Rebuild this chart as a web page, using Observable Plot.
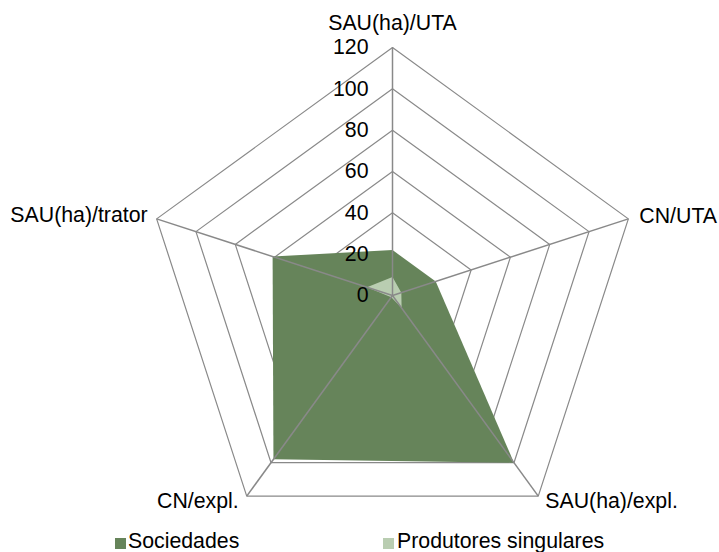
<!DOCTYPE html>
<html>
<head>
<meta charset="utf-8">
<script src="https://cdn.jsdelivr.net/npm/d3@7"></script>
<script src="https://cdn.jsdelivr.net/npm/@observablehq/plot@0.6"></script>
<style>
  html, body { margin: 0; padding: 0; background: #fff; }
  #wrap { position: relative; width: 719px; height: 552px; font-family: "Liberation Sans", Arial, sans-serif; }
  .lg { position: absolute; font-size: 21.3px; line-height: 21.3px; color: #000; white-space: nowrap; }
  .sw { position: absolute; width: 11px; height: 11px; }
</style>
</head>
<body>
<div id="wrap"></div>
<script>
const categories = ["SAU(ha)/UTA", "CN/UTA", "SAU(ha)/expl.", "CN/expl.", "SAU(ha)/trator"];
const sociedades = [22, 22, 100, 98, 61];
const produtores = [9, 4.5, 7.5, 1, 13];
const ticks = [0, 20, 40, 60, 80, 100, 120];
const seriesNames = ["Sociedades", "Produtores singulares"];
const seriesColors = ["#66845a", "#b9cdb1"];

const n = categories.length;
const ang = i => i * 2 * Math.PI / n;
const px = (i, r) => r * Math.sin(ang(i));
const py = (i, r) => r * Math.cos(ang(i));

const rings = ticks.filter(t => t > 0).flatMap(t => categories.map((c, i) => ({t, x: px(i, t), y: py(i, t)})));
const spokes = categories.map((c, i) => ({c, i, x: px(i, 120), y: py(i, 120)}));
const polys = [sociedades, produtores].map((vals, s) => vals.map((v, i) => ({s, x: px(i, v), y: py(i, v)})));
const tickData = ticks.map(t => ({t}));

const labelOffsets = [
  {dx: 0, dy: -24, anchor: "middle"},
  {dx: 11, dy: -3, anchor: "start"},
  {dx: 7, dy: 5, anchor: "start"},
  {dx: -8, dy: 5, anchor: "end"},
  {dx: -9, dy: -4, anchor: "end"}
];

const font = "Liberation Sans, Arial, sans-serif";
const chart = Plot.plot({
  width: 719,
  height: 525,
  marginLeft: 144,
  marginRight: 79,
  marginTop: 47,
  marginBottom: 23.33,
  x: {domain: [-120, 120], axis: null},
  y: {domain: [-100, 120], axis: null},
  style: {fontFamily: font, background: "#fff", overflow: "visible"},
  marks: [
    Plot.line(rings, {x: "x", y: "y", z: "t", curve: "linear-closed", stroke: "#898989", strokeWidth: 1.2}),
    Plot.line(polys[0], {x: "x", y: "y", curve: "linear-closed", fill: seriesColors[0], stroke: "none"}),
    Plot.line(polys[1], {x: "x", y: "y", curve: "linear-closed", fill: seriesColors[1], stroke: "none"}),
    Plot.link(spokes, {x1: () => 0, y1: () => 0, x2: "x", y2: "y", stroke: "#898989", strokeWidth: 1.5}),
    Plot.text(tickData, {x: () => 0, y: "t", text: d => String(d.t), textAnchor: "end", dx: -24, fontSize: 21.3, fill: "#000"}),
    ...spokes.map((s, i) => Plot.text([s], {x: "x", y: "y", text: "c", textAnchor: labelOffsets[i].anchor, dx: labelOffsets[i].dx, dy: labelOffsets[i].dy, fontSize: 21.3, fill: "#000"}))
  ]
});
const wrap = document.getElementById("wrap");
wrap.appendChild(chart);

const legendPos = [{sx: 115, tx: 128}, {sx: 383, tx: 397}];
seriesNames.forEach((name, i) => {
  const sw = document.createElement("div");
  sw.className = "sw";
  sw.style.left = legendPos[i].sx + "px";
  sw.style.top = "538px";
  sw.style.background = seriesColors[i];
  wrap.appendChild(sw);
  const t = document.createElement("div");
  t.className = "lg";
  t.style.left = legendPos[i].tx + "px";
  t.style.top = "531px";
  t.textContent = name;
  wrap.appendChild(t);
});
</script>
</body>
</html>
